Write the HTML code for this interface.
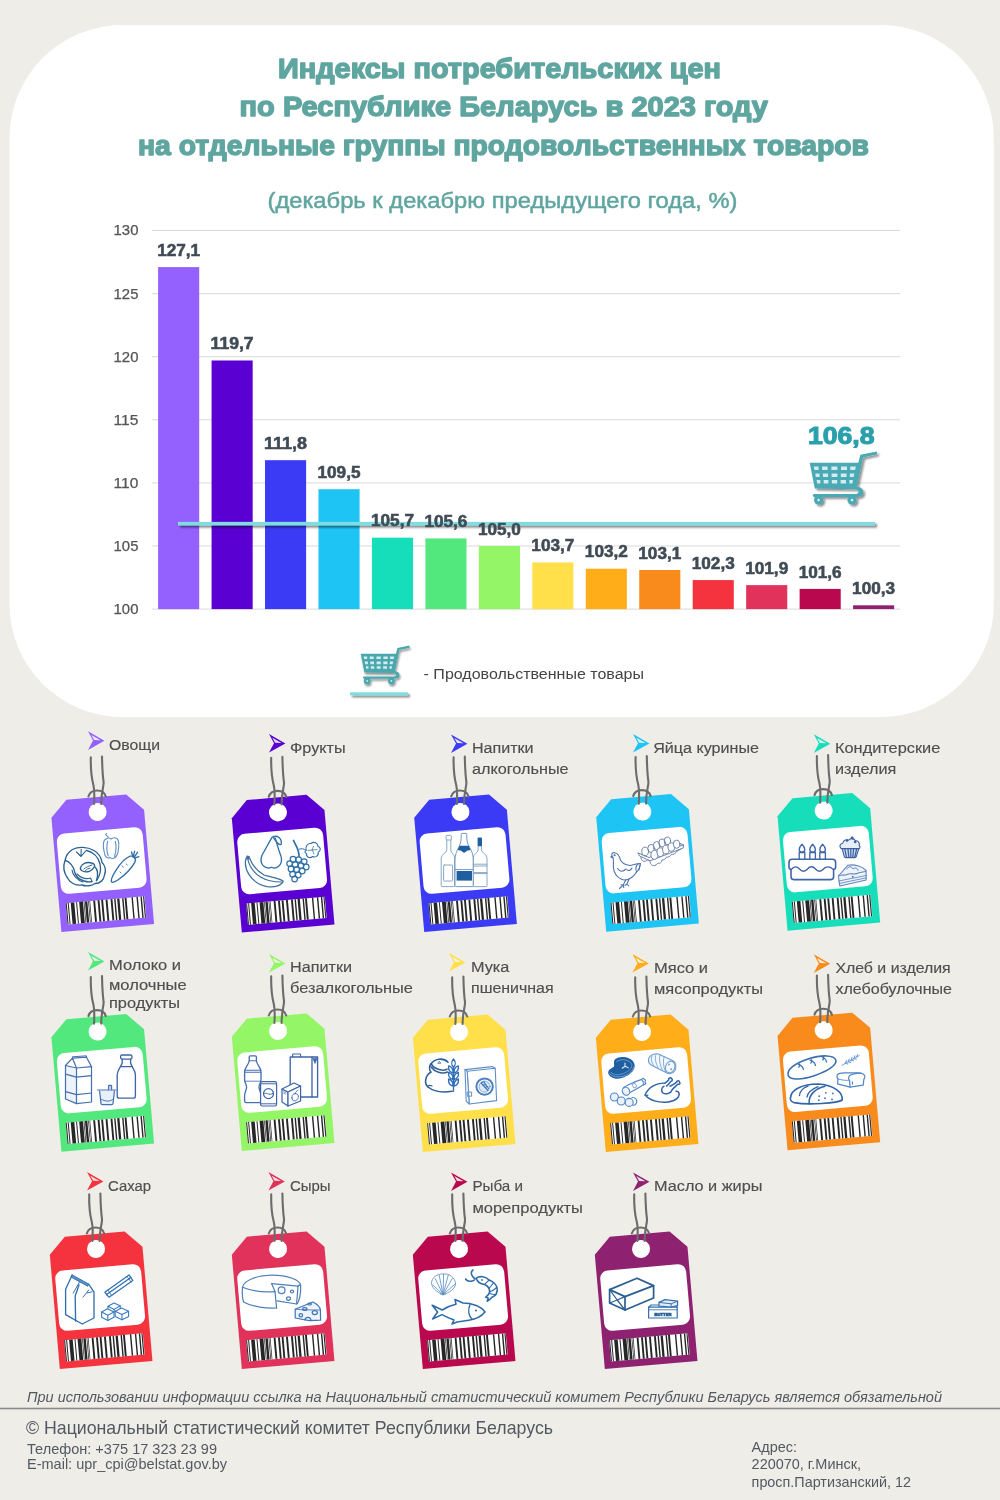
<!DOCTYPE html>
<html lang="ru"><head><meta charset="utf-8"><title>Индексы потребительских цен</title>
<style>
html,body{margin:0;padding:0;background:#EEEDE8;}
body{width:1000px;height:1500px;overflow:hidden;font-family:"Liberation Sans",sans-serif;}
svg{display:block;will-change:transform;font-family:"Liberation Sans",sans-serif;}
.ttl{font-weight:bold;font-size:28.5px;fill:#5FA5A0;stroke:#5FA5A0;stroke-width:1.5px;stroke-linejoin:round;}
.sub{font-size:22.5px;fill:#5FA5A0;stroke:#5FA5A0;stroke-width:.5px;}
.ax{font-size:14px;fill:#555;stroke:#555;stroke-width:.25px;}
.dl{font-weight:bold;font-size:16px;fill:#404B55;stroke:#404B55;stroke-width:.55px;}
.lb{font-size:15.2px;fill:#4f4f4f;stroke:#4f4f4f;stroke-width:.15px;}
.ic{fill:none;stroke:#2F6FA8;stroke-width:10;stroke-linecap:round;stroke-linejoin:round;}
.icf{fill:#2F6FA8;stroke:none;}
.ft{fill:#535960;}
</style></head><body>
<svg width="1000" height="1500" viewBox="0 0 1000 1500">
<defs>
<filter id="sh" x="-20%" y="-20%" width="150%" height="150%"><feGaussianBlur in="SourceAlpha" stdDeviation="1.2"/><feOffset dx="2" dy="2.2"/><feComponentTransfer><feFuncA type="linear" slope=".45"/></feComponentTransfer><feMerge><feMergeNode/><feMergeNode in="SourceGraphic"/></feMerge></filter>
<filter id="shl" x="-5%" y="-200%" width="110%" height="600%"><feGaussianBlur in="SourceAlpha" stdDeviation="1"/><feOffset dx="1.5" dy="2.2"/><feComponentTransfer><feFuncA type="linear" slope=".5"/></feComponentTransfer><feMerge><feMergeNode/><feMergeNode in="SourceGraphic"/></feMerge></filter>
<g id="cart">
<path d="M67.2 0 L67.9 2.9 L53.6 6.1 L46.9 37.8 L5.4 37.2 L0.3 11.4 L48.9 11.4 L51 3.4 Z"/>
<path d="M46 35.2 C51.5 35.2 54.8 38.6 53.6 42 C52.8 44.6 50 45.6 47 45.6 L5 45.6 C2.8 45.6 2.8 42.6 5 42.6 L46.6 42.6 C49.8 42.6 50.4 38.4 46.6 38.2 Z"/>
<circle cx="9.2" cy="48.7" r="4.6"/><circle cx="42.6" cy="48.7" r="4.6"/>
<g fill="#D3ECEF">
<circle cx="9.2" cy="48.7" r="1.3"/><circle cx="42.6" cy="48.7" r="1.3"/>
<path d="M4.4 15 h4.8 v3.6 h-4.2 Z M12.6 15 h5.6 v3.6 h-5.4 Z M22 15 h6 v3.6 h-6 Z M31.6 15 h6 v3.6 h-6 Z M40.8 15 h5.6 l-.7 3.6 h-4.9 Z"/>
<path d="M5.8 22 h4.4 v3.6 h-3.8 Z M13.4 22 h5.2 v3.6 h-5 Z M22.2 22 h5.8 v3.6 h-5.8 Z M31.4 22 h5.8 v3.6 h-5.8 Z M40.4 22 h4.6 l-.7 3.6 h-3.9 Z"/>
<path d="M7.2 28.6 h3.8 v3.4 h-3.2 Z M14.2 28.6 h4.8 v3.4 h-4.6 Z M22.4 28.6 h5.4 v3.4 h-5.4 Z M31.2 28.6 h5.4 v3.4 h-5.4 Z M40 28.6 h3.6 l-.7 3.4 h-2.9 Z"/>
</g>
</g>
</defs>
<rect x="0" y="0" width="1000" height="1500" fill="#EEEDE8"/>
<rect x="9.5" y="25" width="984.3" height="692" rx="113" ry="113" fill="#FFFFFF"/>
<text x="278" y="77.6" class="ttl" textLength="443" lengthAdjust="spacingAndGlyphs">Индексы потребительских цен</text>
<text x="239.6" y="115.6" class="ttl" textLength="528.4" lengthAdjust="spacingAndGlyphs">по Республике Беларусь в 2023 году</text>
<text x="138" y="155" class="ttl" textLength="731" lengthAdjust="spacingAndGlyphs">на отдельные группы продовольственных товаров</text>
<text x="267.5" y="207.5" class="sub" textLength="470" lengthAdjust="spacingAndGlyphs">(декабрь к декабрю предыдущего года, %)</text>
<rect x="152" y="608.60" width="748" height="1" fill="#D9D9D9"/>
<text x="113.6" y="614.0" class="ax" textLength="24.8" lengthAdjust="spacingAndGlyphs">100</text>
<rect x="152" y="545.50" width="748" height="1" fill="#D9D9D9"/>
<text x="113.6" y="550.9" class="ax" textLength="24.8" lengthAdjust="spacingAndGlyphs">105</text>
<rect x="152" y="482.40" width="748" height="1" fill="#D9D9D9"/>
<text x="113.6" y="487.8" class="ax" textLength="24.8" lengthAdjust="spacingAndGlyphs">110</text>
<rect x="152" y="419.30" width="748" height="1" fill="#D9D9D9"/>
<text x="113.6" y="424.7" class="ax" textLength="24.8" lengthAdjust="spacingAndGlyphs">115</text>
<rect x="152" y="356.20" width="748" height="1" fill="#D9D9D9"/>
<text x="113.6" y="361.6" class="ax" textLength="24.8" lengthAdjust="spacingAndGlyphs">120</text>
<rect x="152" y="293.10" width="748" height="1" fill="#D9D9D9"/>
<text x="113.6" y="298.5" class="ax" textLength="24.8" lengthAdjust="spacingAndGlyphs">125</text>
<rect x="152" y="230.00" width="748" height="1" fill="#D9D9D9"/>
<text x="113.6" y="235.4" class="ax" textLength="24.8" lengthAdjust="spacingAndGlyphs">130</text>
<rect x="158.10" y="267.10" width="41.10" height="342.00" fill="#9461FF"/>
<rect x="211.56" y="360.49" width="41.10" height="248.61" fill="#5A00D2"/>
<rect x="265.02" y="460.18" width="41.10" height="148.92" fill="#3B3BF5"/>
<rect x="318.48" y="489.21" width="41.10" height="119.89" fill="#1EC4F4"/>
<rect x="371.94" y="537.67" width="41.10" height="71.43" fill="#16DEBA"/>
<rect x="425.40" y="538.43" width="41.10" height="70.67" fill="#52E87E"/>
<rect x="478.86" y="546.00" width="41.10" height="63.10" fill="#94F566"/>
<rect x="532.32" y="562.41" width="41.10" height="46.69" fill="#FFE04A"/>
<rect x="585.78" y="568.72" width="41.10" height="40.38" fill="#FFAE1A"/>
<rect x="639.24" y="569.98" width="41.10" height="39.12" fill="#F98B1C"/>
<rect x="692.70" y="580.07" width="41.10" height="29.03" fill="#F5333F"/>
<rect x="746.16" y="585.12" width="41.10" height="23.98" fill="#E0325A"/>
<rect x="799.62" y="588.91" width="41.10" height="20.19" fill="#BA084E"/>
<rect x="853.08" y="605.31" width="41.10" height="3.79" fill="#8E2270"/>
<rect x="178" y="521.88" width="697" height="3.6" fill="#7FDDE2" filter="url(#shl)"/>
<text x="178.65" y="255.70" class="dl" textLength="43" lengthAdjust="spacingAndGlyphs" text-anchor="middle">127,1</text>
<text x="232.11" y="349.09" class="dl" textLength="43" lengthAdjust="spacingAndGlyphs" text-anchor="middle">119,7</text>
<text x="285.57" y="448.78" class="dl" textLength="43" lengthAdjust="spacingAndGlyphs" text-anchor="middle">111,8</text>
<text x="339.03" y="477.81" class="dl" textLength="43" lengthAdjust="spacingAndGlyphs" text-anchor="middle">109,5</text>
<text x="392.49" y="526.27" class="dl" textLength="43" lengthAdjust="spacingAndGlyphs" text-anchor="middle">105,7</text>
<text x="445.95" y="527.03" class="dl" textLength="43" lengthAdjust="spacingAndGlyphs" text-anchor="middle">105,6</text>
<text x="499.41" y="534.60" class="dl" textLength="43" lengthAdjust="spacingAndGlyphs" text-anchor="middle">105,0</text>
<text x="552.87" y="551.01" class="dl" textLength="43" lengthAdjust="spacingAndGlyphs" text-anchor="middle">103,7</text>
<text x="606.33" y="557.32" class="dl" textLength="43" lengthAdjust="spacingAndGlyphs" text-anchor="middle">103,2</text>
<text x="659.79" y="558.58" class="dl" textLength="43" lengthAdjust="spacingAndGlyphs" text-anchor="middle">103,1</text>
<text x="713.25" y="568.67" class="dl" textLength="43" lengthAdjust="spacingAndGlyphs" text-anchor="middle">102,3</text>
<text x="766.71" y="573.72" class="dl" textLength="43" lengthAdjust="spacingAndGlyphs" text-anchor="middle">101,9</text>
<text x="820.17" y="577.51" class="dl" textLength="43" lengthAdjust="spacingAndGlyphs" text-anchor="middle">101,6</text>
<text x="873.63" y="593.91" class="dl" textLength="43" lengthAdjust="spacingAndGlyphs" text-anchor="middle">100,3</text>
<use href="#cart" x="0" y="0" transform="translate(809.4 451.4)" fill="#4AA9B4" filter="url(#sh)"/>
<text x="808" y="444.3" textLength="66.5" lengthAdjust="spacingAndGlyphs" style="font-weight:bold;font-size:24.2px;fill:#2BA0AD;stroke:#2BA0AD;stroke-width:1.1px">106,8</text>
<use href="#cart" transform="translate(360.5 645.6) scale(.725)" fill="#48A8AE" filter="url(#sh)"/>
<rect x="350" y="692.3" width="58" height="3" fill="#7FDDE2" filter="url(#shl)"/>
<text x="423.6" y="679" textLength="220.4" lengthAdjust="spacingAndGlyphs" style="font-size:15.5px;fill:#444">- Продовольственные товары</text>
<defs><g id="bc"><rect x="-39.7" y="88" width="79" height="21.4" fill="#fff"/><rect x="-39.7" y="88" width="1.0" height="21.4" fill="#262626"/><rect x="-37.7" y="88" width="1.0" height="21.4" fill="#262626"/><rect x="-34.7" y="88" width="3.6" height="21.4" fill="#262626"/><rect x="-29.3" y="88" width="1.0" height="21.4" fill="#262626"/><rect x="-26.2" y="88" width="3.8" height="21.4" fill="#262626"/><rect x="-21.7" y="88" width="0.7" height="21.4" fill="#262626"/><rect x="-20.4" y="88" width="2.4" height="21.4" fill="#262626"/><rect x="-17.2" y="88" width="0.7" height="21.4" fill="#262626"/><rect x="-15.9" y="88" width="0.7" height="21.4" fill="#262626"/><rect x="-12.1" y="88" width="1.9" height="21.4" fill="#262626"/><rect x="-7.7" y="88" width="1.9" height="21.4" fill="#262626"/><rect x="-4.1" y="88" width="1.9" height="21.4" fill="#262626"/><rect x="0.3" y="88" width="1.9" height="21.4" fill="#262626"/><rect x="5.3" y="88" width="1.9" height="21.4" fill="#262626"/><rect x="8.9" y="88" width="1.4" height="21.4" fill="#262626"/><rect x="11.9" y="88" width="2.3" height="21.4" fill="#262626"/><rect x="16.9" y="88" width="1.4" height="21.4" fill="#262626"/><rect x="19.4" y="88" width="1.9" height="21.4" fill="#262626"/><rect x="26.3" y="88" width="1.4" height="21.4" fill="#262626"/><rect x="31.3" y="88" width="1.4" height="21.4" fill="#262626"/><rect x="35.3" y="88" width="1.4" height="21.4" fill="#262626"/><rect x="37.9" y="88" width="1.1" height="21.4" fill="#262626"/></g>
<g id="str" fill="none" stroke="#6c6c6c" stroke-width="2.1" stroke-linecap="round"><path d="M-6.8 -54.6 C-7 -44 -6.6 -36 -4.2 -27 C-3 -22 -3 -18 -3.6 -8"/><path d="M4.4 -55.5 C4.6 -46 4.8 -38 6 -30 C6.4 -26 3.6 -20 3.6 -8"/><path d="M-9.2 -15.5 C-7 -23.5 6 -23.5 8.2 -15.5"/></g></defs>
<g transform="translate(97.6 812.0)"><g transform="rotate(-5)"><path d="M-30 -15 L30 -15 L46.5 1.7 L46.5 116.5 L-46.5 116.5 L-46.5 1.7 Z" fill="#9461FF"/><circle cx="0" cy="0" r="9" fill="#fff"/><rect x="-43.2" y="18.4" width="86.2" height="60.6" rx="8" fill="#fff"/><use href="#bc"/></g><use href="#str"/></g>
<g transform="translate(52 822) scale(.1)" class="ic"><g stroke="#2B628F" stroke-width="13.4"><path d="M205 275 C260 245 350 245 420 285 C470 315 495 360 500 405 C530 430 545 480 525 530 C520 580 480 615 430 615 C400 640 340 645 300 630 C240 640 180 610 155 560 C120 510 110 440 130 385 C140 335 170 295 205 275 Z"/><path d="M290 345 L245 300 M290 345 L292 272 M290 345 L335 292" stroke-width="11"/><path d="M135 385 C175 395 215 440 225 495 C235 540 270 575 320 590 C350 600 380 600 400 595"/><path d="M285 455 C300 415 350 395 395 410 C420 415 430 430 425 445 C400 495 350 510 305 490 C285 480 280 470 285 455 Z"/><path d="M320 470 C340 450 370 440 400 430 M335 485 C350 470 365 465 380 462" stroke-width="9.8"/><path d="M345 285 C410 300 465 350 480 420 C490 470 480 540 445 585"/><path d="M425 445 C455 470 465 520 445 585"/><path d="M200 480 C205 530 250 580 310 600 M250 520 C290 560 340 575 385 560 C395 580 400 590 400 595" stroke-width="11"/></g><g stroke="#5F8FC0" stroke-width="11"><path d="M540 170 C510 180 508 240 520 290 C525 340 550 372 580 356 C610 376 650 360 660 300 C672 240 676 190 650 165 C620 150 600 160 590 172 C575 155 555 160 540 170 Z"/><path d="M562 150 C545 135 528 125 545 115"/><path d="M556 192 C545 240 548 300 562 340 M632 192 C646 240 640 300 626 345"/></g><g stroke="#2F6FA8" stroke-width="13.4"><path d="M597 600 C586 585 600 545 636 488 C676 425 726 362 782 342 C824 334 846 368 828 404 C796 462 722 535 662 578 C632 598 606 608 597 600 Z"/><path d="M810 350 L795 300 M812 350 L826 292 M820 356 L856 302 M826 362 L868 346"/><path d="M700 440 l14 10 M680 500 l10 8 M742 420 l10 8" stroke-width="8.5"/></g></g>
<g transform="translate(88.0 731.3)"><path d="M0 0 L16.4 9.4 L0 18.6 L5 9.2 Z" fill="#9461FF"/><path d="M3.3 3.7 L12.6 8.9 L6.1 8.7 Z" fill="#ECE5F0"/></g>
<text x="109" y="750" class="lb" textLength="51" lengthAdjust="spacingAndGlyphs">Овощи</text>
<g transform="translate(278.0 812.4)"><g transform="rotate(-5)"><path d="M-30 -15 L30 -15 L46.5 1.7 L46.5 116.5 L-46.5 116.5 L-46.5 1.7 Z" fill="#5A00D2"/><circle cx="0" cy="0" r="9" fill="#fff"/><rect x="-43.2" y="18.4" width="86.2" height="60.6" rx="8" fill="#fff"/><use href="#bc"/></g><use href="#str"/></g>
<g transform="translate(232 823) scale(.1)" class="ic"><g stroke="#3E6F9E" stroke-width="12.2"><path d="M142 350 C110 450 180 600 350 636 C430 650 500 622 512 580 C450 542 380 542 320 520 C250 480 200 420 176 350 Z"/><path d="M160 372 C200 520 330 590 500 590"/><path d="M150 330 L172 335 L168 362 L148 358 Z" fill="#3E6F9E"/></g><g stroke="#2F6FA8" stroke-width="13.4"><path d="M402 142 C372 190 342 250 312 300 C270 370 290 442 370 452 C390 440 402 440 420 452 C490 440 512 380 482 310 C460 260 450 200 432 152"/><path d="M410 138 C450 120 502 150 492 212 C470 232 440 182 410 138 Z"/></g><g stroke="#2F6FA8" stroke-width="12.2"><path d="M615 175 C640 232 672 262 670 332" stroke-width="17.1"/><circle cx="610" cy="362" r="28"/><circle cx="666" cy="366" r="28"/><circle cx="722" cy="386" r="28"/><circle cx="576" cy="406" r="28"/><circle cx="632" cy="416" r="28"/><circle cx="690" cy="426" r="28"/><circle cx="742" cy="440" r="28"/><circle cx="590" cy="460" r="28"/><circle cx="646" cy="466" r="28"/><circle cx="702" cy="480" r="28"/><circle cx="606" cy="512" r="28"/><circle cx="662" cy="520" r="28"/><circle cx="626" cy="560" r="28"/><path d="M672 262 C700 250 720 262 740 270" stroke-width="9.8"/><path d="M742 272 C730 230 760 200 790 205 C820 180 860 200 860 235 C890 240 890 280 862 292 C870 330 830 350 805 335 C780 360 740 340 745 305 C725 300 725 280 742 272 Z" stroke-width="11"/><path d="M760 275 L850 265 M800 270 L815 235 M805 272 L820 310" stroke-width="7.3"/></g></g>
<g transform="translate(269.0 734.0)"><path d="M0 0 L16.4 9.4 L0 18.6 L5 9.2 Z" fill="#5A00D2"/><path d="M3.3 3.7 L12.6 8.9 L6.1 8.7 Z" fill="#E6DCEB"/></g>
<text x="290" y="753" class="lb" textLength="55.6" lengthAdjust="spacingAndGlyphs">Фрукты</text>
<g transform="translate(460.4 812.0)"><g transform="rotate(-5)"><path d="M-30 -15 L30 -15 L46.5 1.7 L46.5 116.5 L-46.5 116.5 L-46.5 1.7 Z" fill="#3B3BF5"/><circle cx="0" cy="0" r="9" fill="#fff"/><rect x="-43.2" y="18.4" width="86.2" height="60.6" rx="8" fill="#fff"/><use href="#bc"/></g><use href="#str"/></g>
<g transform="translate(415 823) scale(.1)" class="ic"><g stroke="#86A7C6" stroke-width="9.8"><path d="M312 132 Q312 124 320 124 L356 124 Q364 124 364 132 L364 160 L358 170 L358 270 C358 300 396 310 396 350 L396 628 Q396 636 388 636 L270 636 Q262 636 262 628 L262 350 C262 310 318 300 318 270 L318 170 L312 160 Z"/><rect x="286" y="420" width="90" height="160" rx="8"/><path d="M318 170 L358 170"/><path d="M632 230 L632 270 C630 300 582 310 582 350 L582 628 Q582 636 590 636 L712 636 Q720 636 720 628 L720 350 C720 310 666 300 664 270 L664 230"/><path d="M582 412 L720 412 M582 430 L720 430 M582 496 L720 496 M582 506 L720 506"/></g><rect x="626" y="145" width="44" height="88" rx="10" fill="#1F5FA0" stroke="none"/><g stroke="#6F97BE" stroke-width="9.8"><path d="M462 112 Q462 104 470 104 L510 104 Q518 104 518 112 L518 150 C518 200 540 230 560 270 C575 300 582 330 582 370 L582 628 Q582 636 574 636 L408 636 Q400 636 400 628 L400 370 C400 330 410 300 424 270 C444 230 462 200 462 150 Z" fill="#fff"/><path d="M402 466 L580 466"/></g><path d="M446 228 L536 228 L556 268 C540 280 520 270 512 286 C500 300 480 300 470 286 C462 270 440 280 426 268 Z" fill="#1F5FA0" stroke="none"/><rect x="416" y="480" width="154" height="96" fill="#1F5FA0" stroke="none"/></g>
<g transform="translate(451.0 734.4)"><path d="M0 0 L16.4 9.4 L0 18.6 L5 9.2 Z" fill="#3B3BF5"/><path d="M3.3 3.7 L12.6 8.9 L6.1 8.7 Z" fill="#E3E2EF"/></g>
<text x="472" y="753" class="lb" textLength="61.6" lengthAdjust="spacingAndGlyphs">Напитки</text>
<text x="472" y="774" class="lb" textLength="96.6" lengthAdjust="spacingAndGlyphs">алкогольные</text>
<g transform="translate(642.4 811.6)"><g transform="rotate(-5)"><path d="M-30 -15 L30 -15 L46.5 1.7 L46.5 116.5 L-46.5 116.5 L-46.5 1.7 Z" fill="#1EC4F4"/><circle cx="0" cy="0" r="9" fill="#fff"/><rect x="-43.2" y="18.4" width="86.2" height="60.6" rx="8" fill="#fff"/><use href="#bc"/></g><use href="#str"/></g>
<g transform="translate(597 823) scale(.1)" class="ic"><g stroke="#4F74AE" stroke-width="11"><path d="M150 330 C140 300 165 290 185 300 C215 305 225 340 235 370 C250 400 290 420 330 425 C360 420 390 405 435 405 C430 440 420 470 395 490 C380 520 350 545 320 560 C290 575 260 570 240 560 C200 540 170 500 165 450 C160 410 170 370 160 345 Z"/><path d="M150 330 L138 340 L155 348" /><circle cx="176" cy="322" r="5" fill="#4F74AE"/><path d="M205 455 C230 490 260 490 290 460 M300 470 C320 480 340 470 350 450"/><path d="M395 490 C385 460 385 430 410 410 M420 470 L430 420" /><path d="M290 566 L262 620 L225 655 M262 620 L240 618 M262 620 L268 645 M320 560 L300 610 L318 630 M300 610 L280 625"/></g><g stroke="#6D82A8" stroke-width="9.8"><path d="M410 300 L520 345 L865 218 L770 182"/><path d="M412 302 L425 330 L530 378 L862 250 L866 220"/><path d="M440 340 C438 370 460 392 490 380 C500 372 505 365 515 372 M530 380 C528 415 560 440 590 420 C600 405 610 400 622 405 C640 400 650 385 648 370 C665 372 690 360 695 340 C710 345 735 335 742 315 C760 318 790 305 800 280 L838 262"/><ellipse cx="482" cy="285" rx="34" ry="44"/><ellipse cx="540" cy="255" rx="32" ry="40"/><ellipse cx="596" cy="226" rx="32" ry="40"/><ellipse cx="650" cy="200" rx="32" ry="40"/><ellipse cx="704" cy="178" rx="32" ry="38"/><ellipse cx="575" cy="318" rx="36" ry="46" fill="#fff"/><ellipse cx="634" cy="292" rx="34" ry="44" fill="#fff"/><ellipse cx="690" cy="265" rx="34" ry="44" fill="#fff"/><ellipse cx="744" cy="240" rx="34" ry="42" fill="#fff"/><ellipse cx="796" cy="212" rx="32" ry="40" fill="#fff"/></g></g>
<g transform="translate(633.0 734.0)"><path d="M0 0 L16.4 9.4 L0 18.6 L5 9.2 Z" fill="#1EC4F4"/><path d="M3.3 3.7 L12.6 8.9 L6.1 8.7 Z" fill="#E0EFEF"/></g>
<text x="653.2" y="753" class="lb" textLength="105.8" lengthAdjust="spacingAndGlyphs">Яйца куриные</text>
<g transform="translate(823.7 810.6)"><g transform="rotate(-5)"><path d="M-30 -15 L30 -15 L46.5 1.7 L46.5 116.5 L-46.5 116.5 L-46.5 1.7 Z" fill="#16DEBA"/><circle cx="0" cy="0" r="9" fill="#fff"/><rect x="-43.2" y="18.4" width="86.2" height="60.6" rx="8" fill="#fff"/><use href="#bc"/></g><use href="#str"/></g>
<g transform="translate(778 822) scale(.1)" class="ic"><g stroke="#3F65A8" stroke-width="15.9"><path d="M140 372 L545 372 Q576 372 576 402 L576 450 Q576 472 556 474 L556 548 Q556 576 528 576 L158 576 Q130 576 130 548 L130 474 Q110 472 110 450 L110 402 Q110 372 140 372 Z"/><path d="M132 476 C160 440 190 440 215 470 C240 500 270 500 295 470 C320 440 350 440 375 470 C400 500 430 500 455 470 C480 440 520 440 554 476" stroke-width="13.4"/><path d="M212 368 L212 305 L268 305 L268 368 M318 368 L318 305 L374 305 L374 368 M418 368 L418 305 L474 305 L474 368" stroke-width="13.4"/><path d="M240 222 C262 245 268 262 268 275 C268 292 256 302 240 302 C224 302 212 292 212 275 C212 262 218 245 240 222 Z M346 222 C368 245 374 262 374 275 C374 292 362 302 346 302 C330 302 318 292 318 275 C318 262 324 245 346 222 Z M446 222 C468 245 474 262 474 275 C474 292 462 302 446 302 C430 302 418 292 418 275 C418 262 424 245 446 222 Z" stroke-width="13.4"/></g><g stroke="#3B5FA0" stroke-width="11"><path d="M640 262 L810 262 L782 348 Q778 356 768 356 L676 356 Q668 356 664 348 Z" fill="#C9D8EE"/><path d="M668 270 L684 350 M700 270 L708 352 M728 270 L728 354 M756 270 L748 352 M786 270 L768 350" stroke-width="12.2"/><path d="M628 262 C610 240 622 215 648 212 C650 185 680 170 705 182 C720 160 760 160 772 185 C800 185 822 210 812 235 C826 250 818 266 808 266 L634 266 Z" fill="#E6EEF8"/><circle cx="742" cy="160" r="9" fill="#3B5FA0"/><circle cx="690" cy="186" r="7" fill="#3B5FA0"/><circle cx="772" cy="200" r="7" fill="#3B5FA0"/></g><g stroke="#5F84BC" stroke-width="11"><path d="M604 540 L700 432 C760 420 840 440 880 484 L882 580 L618 640 Z" fill="#EEF3FA"/><path d="M604 540 C640 520 660 540 690 525 C720 505 760 530 790 515 C820 500 850 505 880 490"/><path d="M608 590 L882 535 M612 615 L882 558" stroke-width="8.5"/><circle cx="748" cy="548" r="9" fill="#3B5FA0" stroke="none"/><path d="M690 470 C700 440 740 440 750 470 C770 450 800 460 800 485" stroke-width="9.8"/></g></g>
<g transform="translate(813.8 734.3)"><path d="M0 0 L16.4 9.4 L0 18.6 L5 9.2 Z" fill="#16DEBA"/><path d="M3.3 3.7 L12.6 8.9 L6.1 8.7 Z" fill="#E0F2E9"/></g>
<text x="835" y="753" class="lb" textLength="105.3" lengthAdjust="spacingAndGlyphs">Кондитерские</text>
<text x="835" y="774.3" class="lb" textLength="61.3" lengthAdjust="spacingAndGlyphs">изделия</text>
<g transform="translate(97.6 1031.6)"><g transform="rotate(-5)"><path d="M-30 -15 L30 -15 L46.5 1.7 L46.5 116.5 L-46.5 116.5 L-46.5 1.7 Z" fill="#52E87E"/><circle cx="0" cy="0" r="9" fill="#fff"/><rect x="-43.2" y="18.4" width="86.2" height="60.6" rx="8" fill="#fff"/><use href="#bc"/></g><use href="#str"/></g>
<g transform="translate(52 1043) scale(.1)" class="ic"><g stroke="#4670AE" stroke-width="12.2"><path d="M135 225 L245 250 L245 606 L135 560 Z" fill="#EDF3FB"/><path d="M245 250 L395 236 L395 590 L245 606"/><path d="M135 225 L205 152 L345 142 L395 236 M245 250 L205 152"/><path d="M205 152 L203 138 L345 128 L345 142" stroke-width="9.8"/><path d="M135 312 L245 342 L395 326 M135 486 L245 516 L395 500"/></g><g stroke="#4670AE" stroke-width="12.2"><path d="M455 470 L640 470"/><path d="M476 480 L490 606 Q492 616 502 616 L598 616 Q608 616 610 606 L624 480" fill="#E8F0FA"/><path d="M566 468 L566 430 Q566 424 572 424 L590 424 Q596 424 596 430 L596 468" fill="#C5D9F0"/><path d="M490 560 C530 588 580 588 614 560" stroke-width="9.8"/></g><g stroke="#3F65A8" stroke-width="13.4"><rect x="686" y="120" width="114" height="42" rx="16"/><path d="M702 162 L702 200 C690 240 652 270 652 320 L652 530 Q652 552 674 552 L812 552 Q834 552 834 530 L834 320 C834 270 796 240 786 200 L786 162"/><path d="M690 236 L798 236"/></g></g>
<g transform="translate(88.0 952.0)"><path d="M0 0 L16.4 9.4 L0 18.6 L5 9.2 Z" fill="#52E87E"/><path d="M3.3 3.7 L12.6 8.9 L6.1 8.7 Z" fill="#E6F3E3"/></g>
<text x="109" y="970.4" class="lb" textLength="72" lengthAdjust="spacingAndGlyphs">Молоко и</text>
<text x="109" y="989.6" class="lb" textLength="77.6" lengthAdjust="spacingAndGlyphs">молочные</text>
<text x="109" y="1008" class="lb" textLength="71" lengthAdjust="spacingAndGlyphs">продукты</text>
<g transform="translate(278.0 1031.0)"><g transform="rotate(-5)"><path d="M-30 -15 L30 -15 L46.5 1.7 L46.5 116.5 L-46.5 116.5 L-46.5 1.7 Z" fill="#94F566"/><circle cx="0" cy="0" r="9" fill="#fff"/><rect x="-43.2" y="18.4" width="86.2" height="60.6" rx="8" fill="#fff"/><use href="#bc"/></g><use href="#str"/></g>
<g transform="translate(232 1042) scale(.1)" class="ic"><g stroke="#4670AE" stroke-width="13.4"><path d="M172 150 Q172 138 184 138 L232 138 Q244 138 244 150 L244 190 C250 230 290 250 290 300 L290 380 C290 410 270 420 270 450 C270 480 290 500 290 540 L290 590 Q290 606 274 606 L142 606 Q126 606 126 590 L126 540 C126 500 146 480 146 450 C146 420 126 410 126 380 L126 300 C126 250 166 230 172 190 Z"/><path d="M172 188 L244 188" stroke-width="9.8"/><path d="M128 282 L288 282 M128 302 L288 302" stroke-width="11"/><path d="M130 392 L288 392" stroke-width="8.5"/></g><g stroke="#3F65A8" stroke-width="12.2"><rect x="286" y="396" width="160" height="244" rx="18" fill="#fff"/><path d="M288 418 L444 418 M288 618 L444 618" stroke-width="9.8"/><circle cx="365" cy="516" r="50"/><path d="M318 520 C340 490 365 545 412 512" stroke-width="9.8"/></g><g stroke="#3F65A8" stroke-width="13.4"><path d="M582 150 L856 150 L856 550 L582 550 Z"/><path d="M800 150 L800 550"/><path d="M606 148 L606 126 Q606 120 612 120 L680 120 Q686 120 686 126 L686 148" stroke-width="11"/><path d="M810 165 L830 215 L850 165 Z" fill="#3F65A8" stroke-width="7.3"/></g><g stroke="#3F65A8" stroke-width="12.2"><path d="M500 470 L560 500 L560 640 L500 600 Z" fill="#fff"/><path d="M500 470 L620 410 L686 440 L560 500 Z" fill="#fff"/><path d="M560 500 L686 440 L686 590 L560 640 Z" fill="#fff"/><path d="M600 560 C590 520 640 500 660 530 C672 560 650 590 620 590 C608 590 602 575 600 560 Z M630 520 C632 500 650 490 660 482" stroke-width="8.5"/><path d="M518 498 L540 510 M518 512 L532 520" stroke-width="7.3"/></g></g>
<g transform="translate(269.0 954.0)"><path d="M0 0 L16.4 9.4 L0 18.6 L5 9.2 Z" fill="#94F566"/><path d="M3.3 3.7 L12.6 8.9 L6.1 8.7 Z" fill="#ECF4E0"/></g>
<text x="290" y="972" class="lb" textLength="62" lengthAdjust="spacingAndGlyphs">Напитки</text>
<text x="290" y="993" class="lb" textLength="123" lengthAdjust="spacingAndGlyphs">безалкогольные</text>
<g transform="translate(459.0 1032.0)"><g transform="rotate(-5)"><path d="M-30 -15 L30 -15 L46.5 1.7 L46.5 116.5 L-46.5 116.5 L-46.5 1.7 Z" fill="#FFE04A"/><circle cx="0" cy="0" r="9" fill="#fff"/><rect x="-43.2" y="18.4" width="86.2" height="60.6" rx="8" fill="#fff"/><use href="#bc"/></g><use href="#str"/></g>
<g transform="translate(413 1043) scale(.1)" class="ic"><g stroke="#2F5F98" stroke-width="15.9"><path d="M178 292 C120 330 110 400 150 440 C200 480 290 500 392 482"/><path d="M150 440 C150 420 170 420 190 430" stroke-width="12.2"/><path d="M180 210 C210 160 300 140 350 192"/><path d="M178 292 C160 260 165 225 182 206 C200 250 280 290 340 262" /><path d="M182 240 C215 290 290 315 345 290" /><path d="M250 200 L262 182 L276 200 Z" stroke-width="7.3"/></g><g stroke="#2F6FB8" stroke-width="13.4"><path d="M405 482 L405 236"/><path d="M405 240 C380 220 385 185 405 160 C425 185 430 220 405 240 Z"/><path d="M400 300 C365 290 352 260 356 228 C385 235 402 262 400 300 Z M410 300 C445 290 458 260 454 228 C425 235 408 262 410 300 Z"/><path d="M400 366 C365 356 352 326 356 294 C385 301 402 328 400 366 Z M410 366 C445 356 458 326 454 294 C425 301 408 328 410 366 Z"/><path d="M400 432 C365 422 352 392 356 360 C385 367 402 394 400 432 Z M410 432 C445 422 458 392 454 360 C425 367 408 394 410 432 Z"/></g><g stroke="#5F8FC8" stroke-width="11"><path d="M542 282 L822 252 L836 576 L562 610 Z" fill="#fff"/><path d="M520 266 L542 282 L562 610 L532 582 Z" fill="#fff"/><path d="M520 266 L792 236 L822 252"/><rect x="546" y="490" width="40" height="42" stroke-width="9.8"/><circle cx="716" cy="436" r="82" stroke="#4A7FC0" stroke-width="19.5"/><circle cx="716" cy="436" r="56" fill="#DCE8F6" stroke-width="7.3"/><path d="M680 400 L750 475 M690 395 l22 -8 l8 22 M706 420 l22 -8 l8 22 M724 442 l22 -8 l8 22" stroke="#3F74B8" stroke-width="11"/></g></g>
<g transform="translate(449.0 953.0)"><path d="M0 0 L16.4 9.4 L0 18.6 L5 9.2 Z" fill="#FFE04A"/><path d="M3.3 3.7 L12.6 8.9 L6.1 8.7 Z" fill="#F7F2DE"/></g>
<text x="471" y="972" class="lb" textLength="38.4" lengthAdjust="spacingAndGlyphs">Мука</text>
<text x="471" y="993" class="lb" textLength="82.6" lengthAdjust="spacingAndGlyphs">пшеничная</text>
<g transform="translate(642.0 1032.0)"><g transform="rotate(-5)"><path d="M-30 -15 L30 -15 L46.5 1.7 L46.5 116.5 L-46.5 116.5 L-46.5 1.7 Z" fill="#FFAE1A"/><circle cx="0" cy="0" r="9" fill="#fff"/><rect x="-43.2" y="18.4" width="86.2" height="60.6" rx="8" fill="#fff"/><use href="#bc"/></g><use href="#str"/></g>
<g transform="translate(596 1043) scale(.1)" class="ic"><path d="M195 170 C250 128 350 150 376 210 C388 262 342 312 282 332 C222 362 150 352 130 302 C124 268 170 260 186 240 C200 215 175 190 195 170 Z" fill="#1F5FA0" stroke="#1F5FA0" stroke-width="17.1"/><path d="M205 186 C250 152 335 166 358 212 C366 246 330 286 276 304 C226 326 168 322 150 292" stroke="#6FA0D8" stroke-width="8.5"/><path d="M290 200 L290 232 L262 252 M290 232 L322 248" stroke="#DCE9F8" stroke-width="11"/><path d="M134 300 C150 340 230 350 290 326 C340 306 372 270 378 240" stroke="#8FB8E6" stroke-width="7.3"/><g stroke="#6F9FD0" stroke-width="11"><path d="M528 152 C540 118 590 100 624 110 L770 178 C800 190 806 240 790 275 C770 310 720 312 700 296 L560 226 C530 210 520 180 528 152 Z" fill="#F3F7FC"/><ellipse cx="742" cy="240" rx="46" ry="60" transform="rotate(20 742 240)"/><path d="M560 130 C545 160 555 200 585 235 M600 112 C585 150 595 200 625 255 M640 120 C628 160 638 215 665 275 M680 140 C668 180 672 230 695 290" stroke-width="8.5"/><circle cx="730" cy="215" r="4" fill="#6F9FD0"/><circle cx="752" cy="262" r="4" fill="#6F9FD0"/></g><g stroke="#4F86C6" stroke-width="11"><path d="M272 450 C290 430 420 372 452 366 C470 372 480 400 470 420 C440 440 320 505 300 515" fill="#fff"/><ellipse cx="300" cy="482" rx="36" ry="42" transform="rotate(-25 300 482)" fill="#EAF1FA"/><path d="M452 366 L470 352 L496 372 L488 392 L500 408 L474 420" /><path d="M360 420 L380 450 L410 436 L392 406 Z" stroke-width="7.3"/><circle cx="184" cy="540" r="40" fill="#EAF1FA"/><circle cx="252" cy="580" r="40" fill="#EAF1FA"/><circle cx="332" cy="594" r="40" fill="#EAF1FA"/><path d="M360 545 C395 540 415 570 405 600 C395 620 380 625 368 622" /></g><g stroke="#2F64A6" stroke-width="14.6"><path d="M492 520 C520 440 610 395 690 402 C700 396 715 384 728 368 C720 350 748 340 756 358 C770 362 762 382 748 384 C735 400 722 420 705 430 M740 432 C770 420 790 405 808 392 C806 372 834 372 836 392 C848 404 832 418 818 412 C800 430 770 455 760 470 C752 500 700 520 670 500 C650 480 650 450 680 432"/><path d="M492 520 C540 580 640 600 720 590 C800 580 840 540 830 500 C825 488 812 480 800 482"/><path d="M492 520 C500 525 512 525 520 520" stroke-width="11"/></g></g>
<g transform="translate(632.4 954.0)"><path d="M0 0 L16.4 9.4 L0 18.6 L5 9.2 Z" fill="#FFAE1A"/><path d="M3.3 3.7 L12.6 8.9 L6.1 8.7 Z" fill="#F7EDD9"/></g>
<text x="654" y="973" class="lb" textLength="54" lengthAdjust="spacingAndGlyphs">Мясо и</text>
<text x="654" y="994" class="lb" textLength="109" lengthAdjust="spacingAndGlyphs">мясопродукты</text>
<g transform="translate(823.7 1030.2)"><g transform="rotate(-5)"><path d="M-30 -15 L30 -15 L46.5 1.7 L46.5 116.5 L-46.5 116.5 L-46.5 1.7 Z" fill="#F98B1C"/><circle cx="0" cy="0" r="9" fill="#fff"/><rect x="-43.2" y="18.4" width="86.2" height="60.6" rx="8" fill="#fff"/><use href="#bc"/></g><use href="#str"/></g>
<g transform="translate(778 1041) scale(.1)" class="ic"><g stroke="#3A6FB0" stroke-width="15.9"><path d="M102 345 C85 290 160 225 300 180 C440 135 560 140 578 190 C592 240 500 300 370 345 C240 390 118 395 102 345 Z"/><path d="M200 232 C225 238 245 256 255 285 M215 228 C218 240 216 252 208 262" stroke-width="12.2"/><path d="M320 192 C345 198 365 216 375 245 M335 188 C338 200 336 212 328 222" stroke-width="12.2"/><path d="M440 160 C465 166 480 184 486 212 M455 156 C458 168 456 180 448 190" stroke-width="12.2"/></g><g stroke="#6F9FD8" stroke-width="9.8"><path d="M640 242 L812 146"/><path d="M676 222 l8 -26 M704 206 l8 -26 M732 190 l8 -26 M760 174 l8 -26 M786 160 l10 -22 M672 224 l28 6 M700 208 l28 6 M728 192 l28 6 M756 176 l28 6" stroke-width="11"/></g><g stroke="#4F86C6" stroke-width="12.2"><path d="M590 352 C588 330 620 318 660 318 L800 318 C850 318 874 340 868 365 C866 375 858 380 858 388 L852 442 L720 462 L596 428 L600 380 C592 372 590 362 590 352 Z" fill="#fff"/><path d="M720 462 L716 392 C700 380 700 352 730 338 C760 326 800 320 830 322"/><path d="M600 380 C640 392 690 398 716 392" stroke-width="8.5"/><path d="M744 408 L744 432" stroke-width="11"/></g><g stroke="#2F64A6" stroke-width="15.9"><path d="M125 570 C128 480 250 432 400 430 C560 438 652 520 642 590 C600 622 300 642 160 616 C130 606 120 592 125 570 Z"/><path d="M312 626 C300 540 380 470 470 452"/><path d="M215 545 C218 505 250 470 300 452 M290 560 C296 520 340 480 400 456" stroke-width="13.4"/></g><g fill="#3A6FB0" stroke="none"><circle cx="412" cy="552" r="9"/><circle cx="478" cy="518" r="9"/><circle cx="548" cy="524" r="9"/><circle cx="470" cy="572" r="9"/><circle cx="540" cy="584" r="9"/><circle cx="408" cy="592" r="9"/></g></g>
<g transform="translate(813.8 954.3)"><path d="M0 0 L16.4 9.4 L0 18.6 L5 9.2 Z" fill="#F98B1C"/><path d="M3.3 3.7 L12.6 8.9 L6.1 8.7 Z" fill="#F6EAD9"/></g>
<text x="835.4" y="973" class="lb" textLength="115.3" lengthAdjust="spacingAndGlyphs">Хлеб и изделия</text>
<text x="835.4" y="994" class="lb" textLength="116.6" lengthAdjust="spacingAndGlyphs">хлебобулочные</text>
<g transform="translate(96.0 1249.0)"><g transform="rotate(-5)"><path d="M-30 -15 L30 -15 L46.5 1.7 L46.5 116.5 L-46.5 116.5 L-46.5 1.7 Z" fill="#F5333F"/><circle cx="0" cy="0" r="9" fill="#fff"/><rect x="-43.2" y="18.4" width="86.2" height="60.6" rx="8" fill="#fff"/><use href="#bc"/></g><use href="#str"/></g>
<g transform="translate(50 1260) scale(.1)" class="ic"><g stroke="#2F6FB0" stroke-width="13.4"><path d="M222 150 L156 292 L156 546 L322 640 L440 580 L440 322 L386 240"/><path d="M290 250 L252 360 L256 612"/><path d="M222 150 L386 240 L378 262 L214 172 Z" fill="#5F95D0" stroke-width="9.8"/><path d="M300 212 L232 332 M388 300 L330 372 M372 330 L420 318" stroke-width="9.8"/><path d="M252 360 L322 400 L322 640 M322 400 L440 322" stroke-width="0"/></g><g stroke="#2F6FB0" stroke-width="12.2"><path d="M548 322 L790 150 L812 178 L570 350 Z" fill="#fff"/><path d="M566 346 L808 176 L828 204 L590 372 Z" fill="#fff"/><path d="M578 300 L600 330 M770 165 L792 195 M596 326 L618 356 M788 190 L810 220" stroke-width="8.5"/></g><g stroke="#3A7AC0" stroke-width="11"><path d="M580 462 L640 430 L702 458 L642 494 Z" fill="#fff"/><path d="M516 520 L574 488 L640 520 L640 572 L578 604 L516 572 Z" fill="#fff"/><path d="M516 520 L578 552 L640 520 M578 552 L578 604"/><path d="M652 512 L716 480 L786 512 L786 566 L720 598 L652 566 Z" fill="#fff"/><path d="M652 512 L720 544 L786 512 M720 544 L720 598"/><path d="M580 462 L580 486 M702 458 L702 484 M642 494 L642 516"/></g></g>
<g transform="translate(87.0 1172.0)"><path d="M0 0 L16.4 9.4 L0 18.6 L5 9.2 Z" fill="#F5333F"/><path d="M3.3 3.7 L12.6 8.9 L6.1 8.7 Z" fill="#F6E1DD"/></g>
<text x="108" y="1191" class="lb" textLength="43" lengthAdjust="spacingAndGlyphs">Сахар</text>
<g transform="translate(278.0 1249.0)"><g transform="rotate(-5)"><path d="M-30 -15 L30 -15 L46.5 1.7 L46.5 116.5 L-46.5 116.5 L-46.5 1.7 Z" fill="#E0325A"/><circle cx="0" cy="0" r="9" fill="#fff"/><rect x="-43.2" y="18.4" width="86.2" height="60.6" rx="8" fill="#fff"/><use href="#bc"/></g><use href="#str"/></g>
<g transform="translate(232 1260) scale(.1)" class="ic"><g stroke="#4F7FB8" stroke-width="12.2"><path d="M105 272 C120 200 260 152 400 152 C560 152 680 200 686 252"/><path d="M105 272 C200 312 330 322 430 316"/><path d="M105 272 C100 330 105 390 116 420 C200 470 350 486 446 480"/><path d="M396 236 L430 316 L446 480"/><path d="M396 236 L660 262 L646 440 L452 408"/><path d="M660 262 C672 250 684 250 686 252 C692 330 672 420 646 440"/><circle cx="496" cy="302" r="34"/><ellipse cx="600" cy="316" rx="16" ry="14"/><ellipse cx="565" cy="386" rx="20" ry="17"/></g><g stroke="#3F74B8" stroke-width="12.2"><path d="M632 492 L808 420 C850 440 880 470 884 500 L886 602 L772 606 L632 580 Z" fill="#EEF4FB"/><path d="M632 492 C700 500 800 500 884 500" stroke-width="8.5"/><ellipse cx="728" cy="490" rx="22" ry="14"/><ellipse cx="776" cy="440" rx="18" ry="10"/><ellipse cx="828" cy="526" rx="26" ry="20"/><ellipse cx="688" cy="552" rx="18" ry="16"/><path d="M730 600 C732 570 780 560 790 602"/></g></g>
<g transform="translate(268.4 1172.0)"><path d="M0 0 L16.4 9.4 L0 18.6 L5 9.2 Z" fill="#E0325A"/><path d="M3.3 3.7 L12.6 8.9 L6.1 8.7 Z" fill="#F4E1DF"/></g>
<text x="290" y="1191" class="lb" textLength="40.6" lengthAdjust="spacingAndGlyphs">Сыры</text>
<g transform="translate(459.0 1249.0)"><g transform="rotate(-5)"><path d="M-30 -15 L30 -15 L46.5 1.7 L46.5 116.5 L-46.5 116.5 L-46.5 1.7 Z" fill="#BA084E"/><circle cx="0" cy="0" r="9" fill="#fff"/><rect x="-43.2" y="18.4" width="86.2" height="60.6" rx="8" fill="#fff"/><use href="#bc"/></g><use href="#str"/></g>
<g transform="translate(413 1260) scale(.1)" class="ic"><g stroke="#5F8FC4" stroke-width="8.5"><path d="M300 346 C230 320 180 270 186 220 C200 150 270 136 310 140 C360 136 420 170 426 240 C420 290 360 330 300 346 Z"/><path d="M300 346 L200 250 M300 346 L222 186 M300 346 L262 152 M300 346 L306 144 M300 346 L352 154 M300 346 L392 186 M300 346 L418 244"/><path d="M276 340 L326 340" stroke-width="12.2"/></g><g stroke="#2E6CA8" stroke-width="15.9"><path d="M620 190 C580 160 572 120 600 100"/><path d="M612 202 C580 222 540 212 526 190"/><path d="M632 182 C670 155 730 165 760 200 C800 215 840 250 842 290 C845 330 820 360 790 372 C775 390 760 405 742 412 L752 380 L728 372 C745 360 760 345 765 325 C770 290 750 260 715 245 C680 240 645 230 632 182 Z"/><path d="M760 200 C745 215 730 232 715 245 M805 228 C790 250 775 270 760 282 M838 275 C815 295 790 312 768 318 M825 345 C805 345 785 342 766 335" stroke-width="11"/><circle cx="690" cy="200" r="9" fill="#2E6CA8" stroke="none"/></g><g stroke="#2E6CA8" stroke-width="15.9"><path d="M192 452 L292 500 C340 470 380 452 430 442 L420 396 L500 430 C580 430 680 460 720 520 C680 570 620 592 560 602 C500 612 462 616 440 620 L390 640 L410 600 C360 582 320 562 290 546 L196 590 L246 520 Z"/><path d="M570 446 C545 500 555 560 592 592" stroke-width="13.4"/><circle cx="630" cy="506" r="10" fill="#2E6CA8" stroke="none"/></g></g>
<g transform="translate(451.0 1172.4)"><path d="M0 0 L16.4 9.4 L0 18.6 L5 9.2 Z" fill="#BA084E"/><path d="M3.3 3.7 L12.6 8.9 L6.1 8.7 Z" fill="#F0DCDE"/></g>
<text x="472.4" y="1191" class="lb" textLength="50.6" lengthAdjust="spacingAndGlyphs">Рыба и</text>
<text x="472.4" y="1212.8" class="lb" textLength="110.6" lengthAdjust="spacingAndGlyphs">морепродукты</text>
<g transform="translate(641.0 1249.0)"><g transform="rotate(-5)"><path d="M-30 -15 L30 -15 L46.5 1.7 L46.5 116.5 L-46.5 116.5 L-46.5 1.7 Z" fill="#8E2270"/><circle cx="0" cy="0" r="9" fill="#fff"/><rect x="-43.2" y="18.4" width="86.2" height="60.6" rx="8" fill="#fff"/><use href="#bc"/></g><use href="#str"/></g>
<g transform="translate(595 1260) scale(.1)" class="ic"><g stroke="#2B5F92" stroke-width="17.1"><path d="M146 296 L300 366 L300 500 L146 430 Z"/><path d="M146 296 L420 182 L586 256 L300 366"/><path d="M586 256 L586 380 L300 500"/><path d="M146 296 L222 400 L300 366 M146 430 L222 400 L300 500" stroke-width="12.2"/></g><g stroke="#3570AE" stroke-width="12.2"><path d="M536 472 L822 472 L822 580 L536 580 Z" fill="#fff"/><path d="M536 472 L562 450 L640 450 M800 450 L822 472"/><path d="M640 424 L700 396 L826 412 L826 456 L760 470 L640 462 Z" fill="#E3EDF8"/><path d="M640 424 L762 438 L826 412 M762 438 L760 470" stroke-width="9.8"/><path d="M540 498 L820 498" stroke-width="8.5"/></g><text x="680" y="556" text-anchor="middle" font-size="36" font-weight="bold" fill="#2B5F92" stroke="#2B5F92" stroke-width="6.1" textLength="170" lengthAdjust="spacingAndGlyphs" font-family="Liberation Sans, sans-serif">BUTTER</text></g>
<g transform="translate(633.0 1172.4)"><path d="M0 0 L16.4 9.4 L0 18.6 L5 9.2 Z" fill="#8E2270"/><path d="M3.3 3.7 L12.6 8.9 L6.1 8.7 Z" fill="#ECDFE1"/></g>
<text x="654" y="1191.2" class="lb" textLength="108.4" lengthAdjust="spacingAndGlyphs">Масло и жиры</text>
<text x="27" y="1401.5" textLength="915" lengthAdjust="spacingAndGlyphs" class="ft" style="font-style:italic;font-size:14.3px">При использовании информации ссылка на Национальный статистический комитет Республики Беларусь является обязательной</text>
<rect x="0" y="1407.7" width="1000" height="1.6" fill="#8a8a8a"/>
<text x="26" y="1433.8" textLength="527" lengthAdjust="spacingAndGlyphs" class="ft" style="font-size:17.7px">© Национальный статистический комитет Республики Беларусь</text>
<text x="27" y="1453.6" textLength="190" lengthAdjust="spacingAndGlyphs" class="ft" style="font-size:14.3px">Телефон: +375 17 323 23 99</text>
<text x="27" y="1469.2" textLength="200" lengthAdjust="spacingAndGlyphs" class="ft" style="font-size:14.3px">E-mail: upr_cpi@belstat.gov.by</text>
<text x="751.6" y="1452.4" textLength="45.4" lengthAdjust="spacingAndGlyphs" class="ft" style="font-size:14.3px">Адрес:</text>
<text x="751.6" y="1469.4" textLength="109.4" lengthAdjust="spacingAndGlyphs" class="ft" style="font-size:14.3px">220070, г.Минск,</text>
<text x="751.6" y="1487" textLength="159.4" lengthAdjust="spacingAndGlyphs" class="ft" style="font-size:14.3px">просп.Партизанский, 12</text>
</svg>
</body></html>
